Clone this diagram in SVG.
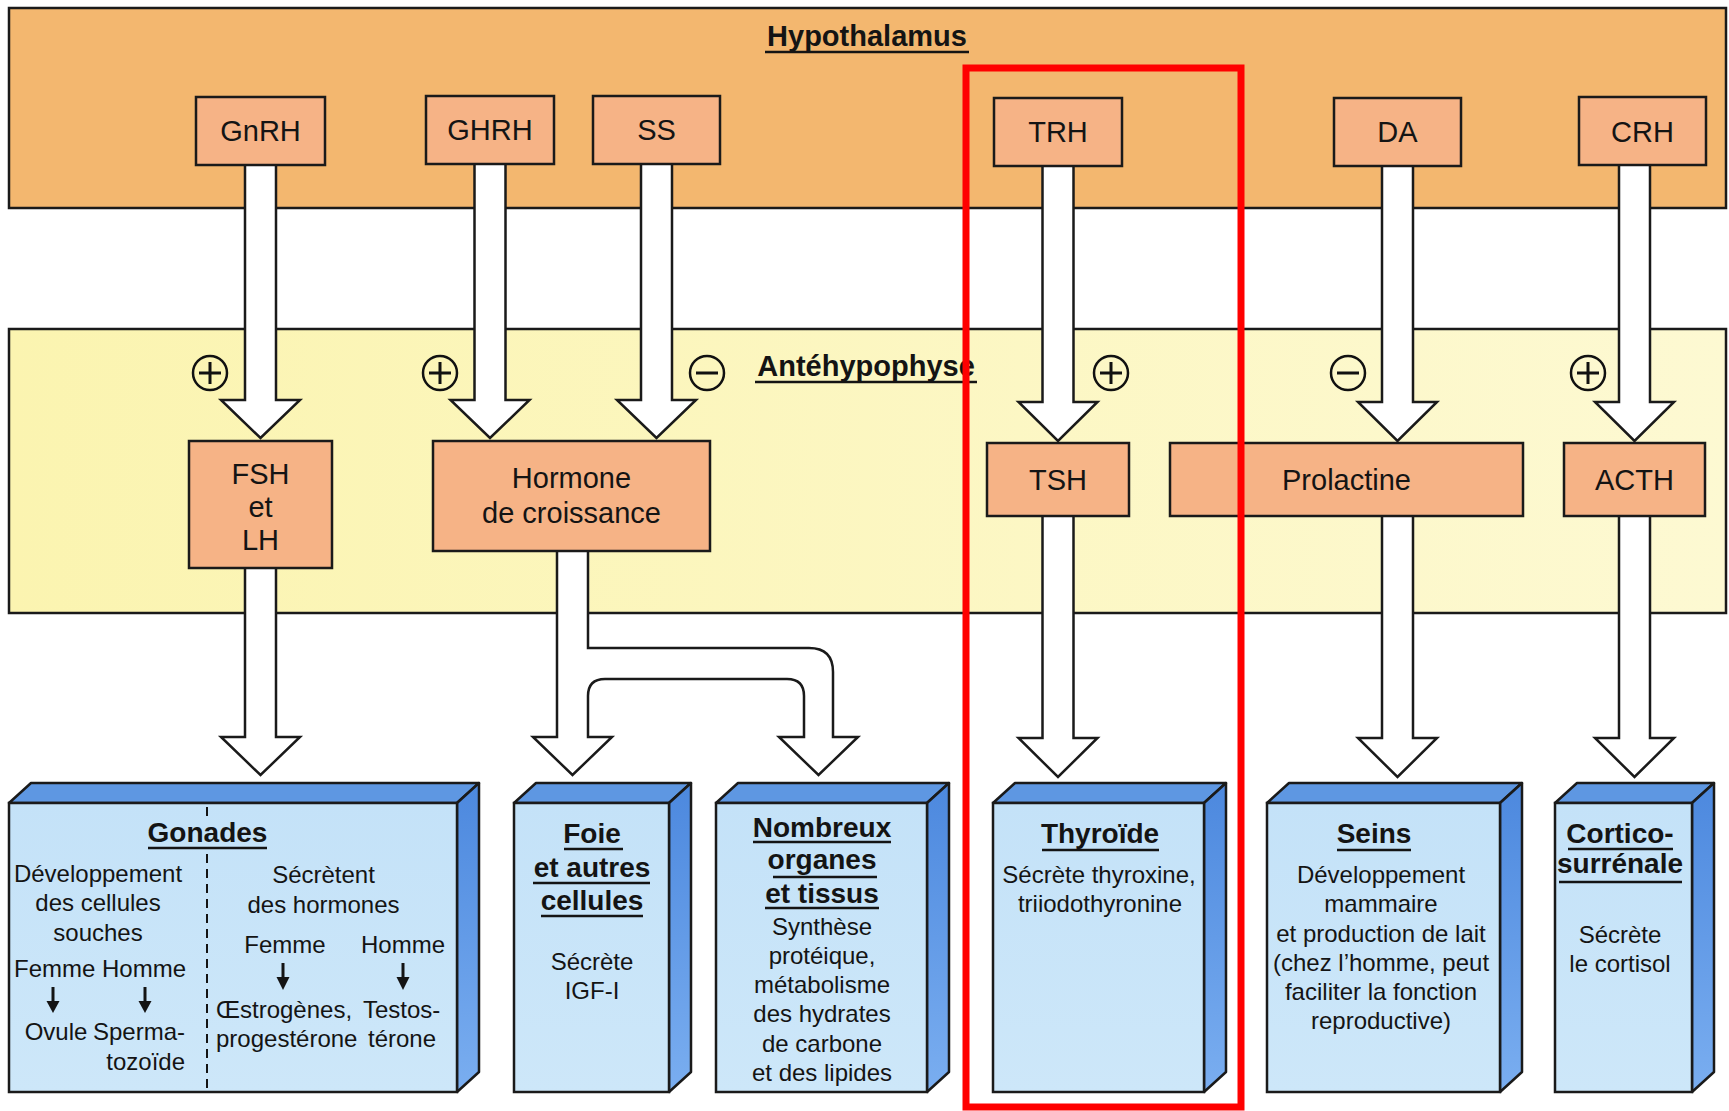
<svg xmlns="http://www.w3.org/2000/svg" width="1729" height="1111" viewBox="0 0 1729 1111">
  <defs>
    <linearGradient id="antGrad" x1="0" y1="0" x2="1" y2="0">
      <stop offset="0" stop-color="#fbf4b0"/>
      <stop offset="1" stop-color="#fdf9d2"/>
    </linearGradient>
    <linearGradient id="sideGrad" x1="0" y1="0" x2="0" y2="1">
      <stop offset="0" stop-color="#4c88de"/>
      <stop offset="1" stop-color="#7aaef0"/>
    </linearGradient>
    <linearGradient id="faceGrad" x1="0" y1="0" x2="0" y2="1">
      <stop offset="0" stop-color="#c4e2f8"/>
      <stop offset="1" stop-color="#cde7f9"/>
    </linearGradient>
    <style>
      .band { stroke: #1a1a1a; stroke-width: 2.5; }
      .hyp { fill: #f3b76f; }
      .ant { fill: url(#antGrad); }
      .hbox { fill: #f6b386; stroke: #1a1a1a; stroke-width: 2.5; }
      .arrow { fill: #ffffff; stroke: #1a1a1a; stroke-width: 2.5; stroke-linejoin: miter; }
      .sign { fill: none; stroke: #111; stroke-width: 2.5; }
      .sign line { stroke-width: 3; }
      .face { fill: url(#faceGrad); stroke: #1a1a1a; stroke-width: 2.5; }
      .top { fill: #5e97e2; stroke: #1a1a1a; stroke-width: 2.5; stroke-linejoin: round; }
      .side { fill: url(#sideGrad); stroke: #1a1a1a; stroke-width: 2.5; stroke-linejoin: round; }
      text { font-family: "Liberation Sans", Arial, sans-serif; fill: #141414; text-anchor: middle; }
      .lbl { font-size: 29px; }
      .ttl { font-size: 28px; font-weight: bold; }
      .head { font-size: 29px; font-weight: bold; }
      .body { font-size: 24px; }
      .start { text-anchor: start; }
      .end { text-anchor: end; }
      .ul { stroke: #141414; stroke-width: 2.5; }
      .mini { stroke: #141414; stroke-width: 3; }
      .miniHead { fill: #141414; }
      .dash { stroke: #141414; stroke-width: 2; stroke-dasharray: 9 6; }
    </style>
  </defs>

  <rect x="0" y="0" width="1729" height="1111" fill="#ffffff"/>

  <!-- Regions -->
  <g id="hypothalamus">
    <rect class="band hyp" x="9" y="8" width="1717" height="200"/>
    <text class="head" x="867" y="46">Hypothalamus</text>
    <line class="ul" x1="765" y1="52" x2="969" y2="52"/>
  </g>
  <g id="antehypophyse">
    <rect class="band ant" x="9" y="329" width="1717" height="284"/>
    <text class="head" x="866" y="376">Antéhypophyse</text>
    <line class="ul" x1="755" y1="382" x2="977" y2="382"/>
  </g>

  <!-- Connectors -->
  <g id="connectors">
    <!-- hypothalamus to antehypophyse -->
    <path class="arrow" d="M245,160 V400 H221 L260.5,438 L300,400 H276 V160 Z"/>
    <path class="arrow" d="M474.5,160 V400 H450.5 L490,438 L529.5,400 H505.5 V160 Z"/>
    <path class="arrow" d="M641,160 V400 H617 L656.5,438 L696,400 H672 V160 Z"/>
    <path class="arrow" d="M1042.5,160 V402 H1018.5 L1058,441 L1097.5,402 H1073.5 V160 Z"/>
    <path class="arrow" d="M1382,160 V402 H1358 L1397.5,441 L1437,402 H1413 V160 Z"/>
    <path class="arrow" d="M1619,160 V402 H1595 L1634.5,441 L1674,402 H1650 V160 Z"/>
    <!-- antehypophyse to targets -->
    <path class="arrow" d="M245,562 V737 H221 L260.5,775 L300,737 H276 V562 Z"/>
    <path class="arrow" d="M557,546 V737 H533 L572.5,775 L612,737 H588 V696 Q588,679 605,679 H787 Q804,679 804,696 V737 H779 L818.5,775 L858,737 H833 V672 Q833,648 809,648 H588 V546 Z"/>
    <path class="arrow" d="M1042.5,510 V738 H1018.5 L1058,777 L1097.5,738 H1073.5 V510 Z"/>
    <path class="arrow" d="M1382,510 V738 H1358 L1397.5,777 L1437,738 H1413 V510 Z"/>
    <path class="arrow" d="M1619,510 V738 H1595 L1634.5,777 L1674,738 H1650 V510 Z"/>
    <!-- stimulation / inhibition signs -->
    <g class="sign">
      <circle cx="210" cy="373" r="17"/>
      <line x1="199" y1="373" x2="221" y2="373"/><line x1="210" y1="362" x2="210" y2="384"/>
      <circle cx="440" cy="373" r="17"/>
      <line x1="429" y1="373" x2="451" y2="373"/><line x1="440" y1="362" x2="440" y2="384"/>
      <circle cx="707" cy="373" r="17"/>
      <line x1="696" y1="373" x2="718" y2="373"/>
      <circle cx="1111" cy="373" r="17"/>
      <line x1="1100" y1="373" x2="1122" y2="373"/><line x1="1111" y1="362" x2="1111" y2="384"/>
      <circle cx="1348" cy="373" r="17"/>
      <line x1="1337" y1="373" x2="1359" y2="373"/>
      <circle cx="1588" cy="373" r="17"/>
      <line x1="1577" y1="373" x2="1599" y2="373"/><line x1="1588" y1="362" x2="1588" y2="384"/>
    </g>
  </g>

  <!-- Hypothalamic hormones -->
  <g id="gnrh"><rect class="hbox" x="196" y="97" width="129" height="68"/><text class="lbl" x="260.5" y="141">GnRH</text></g>
  <g id="ghrh"><rect class="hbox" x="426" y="96" width="128" height="68"/><text class="lbl" x="490" y="140">GHRH</text></g>
  <g id="ss"><rect class="hbox" x="593" y="96" width="127" height="68"/><text class="lbl" x="656.5" y="140">SS</text></g>
  <g id="trh"><rect class="hbox" x="994" y="98" width="128" height="68"/><text class="lbl" x="1058" y="142">TRH</text></g>
  <g id="da"><rect class="hbox" x="1334" y="98" width="127" height="68"/><text class="lbl" x="1397.5" y="142">DA</text></g>
  <g id="crh"><rect class="hbox" x="1579" y="97" width="127" height="68"/><text class="lbl" x="1642.5" y="142">CRH</text></g>

  <!-- Pituitary hormones -->
  <g id="fsh-lh">
    <rect class="hbox" x="189" y="441" width="143" height="127"/>
    <text class="lbl" x="260.5" y="484">FSH</text>
    <text class="lbl" x="260.5" y="517">et</text>
    <text class="lbl" x="260.5" y="550">LH</text>
  </g>
  <g id="gh">
    <rect class="hbox" x="433" y="441" width="277" height="110"/>
    <text class="lbl" x="571.5" y="488">Hormone</text>
    <text class="lbl" x="571.5" y="523">de croissance</text>
  </g>
  <g id="tsh"><rect class="hbox" x="987" y="443" width="142" height="73"/><text class="lbl" x="1058" y="490">TSH</text></g>
  <g id="prolactine"><rect class="hbox" x="1170" y="443" width="353" height="73"/><text class="lbl" x="1346.5" y="490">Prolactine</text></g>
  <g id="acth"><rect class="hbox" x="1564" y="443" width="141" height="73"/><text class="lbl" x="1634.5" y="490">ACTH</text></g>

  <!-- Target organs -->
  <g id="gonades">
    <path class="top" d="M9,803 L31,783 L479,783 L457,803 Z"/>
    <path class="side" d="M457,803 L479,783 L479,1072 L457,1092 Z"/>
    <rect class="face" x="9" y="803" width="448" height="289"/>
    <line class="dash" x1="207" y1="807" x2="207" y2="820"/>
    <line class="dash" x1="207" y1="854" x2="207" y2="1090"/>
    <text class="ttl" x="207.5" y="842">Gonades</text>
    <line class="ul" x1="148" y1="848" x2="267" y2="848"/>
    <text class="body" x="98" y="882">Développement</text>
    <text class="body" x="98" y="911">des cellules</text>
    <text class="body" x="98" y="941">souches</text>
    <text class="body" x="100" y="977">Femme Homme</text>
    <line class="mini" x1="53" y1="987" x2="53" y2="1003"/>
    <path class="miniHead" d="M46.5,1001 L59.5,1001 L53,1013 Z"/>
    <line class="mini" x1="145" y1="987" x2="145" y2="1003"/>
    <path class="miniHead" d="M138.5,1001 L151.5,1001 L145,1013 Z"/>
    <text class="body" x="56" y="1040">Ovule</text>
    <text class="body end" x="185" y="1040">Sperma-</text>
    <text class="body end" x="185" y="1070">tozoïde</text>
    <text class="body" x="323.5" y="883">Sécrètent</text>
    <text class="body" x="323.5" y="913">des hormones</text>
    <text class="body" x="285" y="953">Femme</text>
    <text class="body" x="403" y="953">Homme</text>
    <line class="mini" x1="283" y1="963" x2="283" y2="979"/>
    <path class="miniHead" d="M276.5,977 L289.5,977 L283,990 Z"/>
    <line class="mini" x1="403" y1="963" x2="403" y2="979"/>
    <path class="miniHead" d="M396.5,977 L409.5,977 L403,990 Z"/>
    <text class="body start" x="216" y="1018">Œstrogènes,</text>
    <text class="body start" x="363" y="1018">Testos-</text>
    <text class="body start" x="216" y="1047">progestérone</text>
    <text class="body start" x="368" y="1047">térone</text>
  </g>

  <g id="foie">
    <path class="top" d="M514,803 L536,783 L691,783 L669,803 Z"/>
    <path class="side" d="M669,803 L691,783 L691,1072 L669,1092 Z"/>
    <rect class="face" x="514" y="803" width="155" height="289"/>
    <text class="ttl" x="592" y="843">Foie</text>
    <line class="ul" x1="564" y1="849" x2="623" y2="849"/>
    <text class="ttl" x="592" y="877">et autres</text>
    <line class="ul" x1="533" y1="883" x2="650" y2="883"/>
    <text class="ttl" x="592" y="910">cellules</text>
    <line class="ul" x1="541" y1="916" x2="643" y2="916"/>
    <text class="body" x="592" y="970">Sécrète</text>
    <text class="body" x="592" y="999">IGF-I</text>
  </g>

  <g id="organes-tissus">
    <path class="top" d="M716,803 L738,783 L949,783 L927,803 Z"/>
    <path class="side" d="M927,803 L949,783 L949,1072 L927,1092 Z"/>
    <rect class="face" x="716" y="803" width="211" height="289"/>
    <text class="ttl" x="822" y="837">Nombreux</text>
    <line class="ul" x1="753" y1="842" x2="891" y2="842"/>
    <text class="ttl" x="822" y="869">organes</text>
    <line class="ul" x1="773" y1="877" x2="877" y2="877"/>
    <text class="ttl" x="822" y="903">et tissus</text>
    <line class="ul" x1="765" y1="908" x2="879" y2="908"/>
    <text class="body" x="822" y="935">Synthèse</text>
    <text class="body" x="822" y="964">protéique,</text>
    <text class="body" x="822" y="993">métabolisme</text>
    <text class="body" x="822" y="1022">des hydrates</text>
    <text class="body" x="822" y="1052">de carbone</text>
    <text class="body" x="822" y="1081">et des lipides</text>
  </g>

  <g id="thyroide">
    <path class="top" d="M993,803 L1015,783 L1226,783 L1204,803 Z"/>
    <path class="side" d="M1204,803 L1226,783 L1226,1072 L1204,1092 Z"/>
    <rect class="face" x="993" y="803" width="211" height="289"/>
    <text class="ttl" x="1100" y="843">Thyroïde</text>
    <line class="ul" x1="1042" y1="850" x2="1159" y2="850"/>
    <text class="body" x="1099" y="883">Sécrète thyroxine,</text>
    <text class="body" x="1100" y="912">triiodothyronine</text>
  </g>

  <g id="seins">
    <path class="top" d="M1267,803 L1289,783 L1522,783 L1500,803 Z"/>
    <path class="side" d="M1500,803 L1522,783 L1522,1072 L1500,1092 Z"/>
    <rect class="face" x="1267" y="803" width="233" height="289"/>
    <text class="ttl" x="1374" y="843">Seins</text>
    <line class="ul" x1="1337" y1="850" x2="1411" y2="850"/>
    <text class="body" x="1381" y="883">Développement</text>
    <text class="body" x="1381" y="912">mammaire</text>
    <text class="body" x="1381" y="942">et production de lait</text>
    <text class="body" x="1381" y="971">(chez l’homme, peut</text>
    <text class="body" x="1381" y="1000">faciliter la fonction</text>
    <text class="body" x="1381" y="1029">reproductive)</text>
  </g>

  <g id="corticosurrenale">
    <path class="top" d="M1555,803 L1577,783 L1714,783 L1692,803 Z"/>
    <path class="side" d="M1692,803 L1714,783 L1714,1072 L1692,1092 Z"/>
    <rect class="face" x="1555" y="803" width="137" height="289"/>
    <text class="ttl" x="1620" y="843">Cortico-</text>
    <line class="ul" x1="1568" y1="849" x2="1673" y2="849"/>
    <text class="ttl" x="1620" y="873">surrénale</text>
    <line class="ul" x1="1559" y1="882" x2="1682" y2="882"/>
    <text class="body" x="1620" y="943">Sécrète</text>
    <text class="body" x="1620" y="972">le cortisol</text>
  </g>

  <!-- Highlight frame around the thyroid axis -->
  <rect id="highlight" x="966" y="68" width="275" height="1039" fill="none" stroke="#ff0000" stroke-width="7"/>
</svg>
